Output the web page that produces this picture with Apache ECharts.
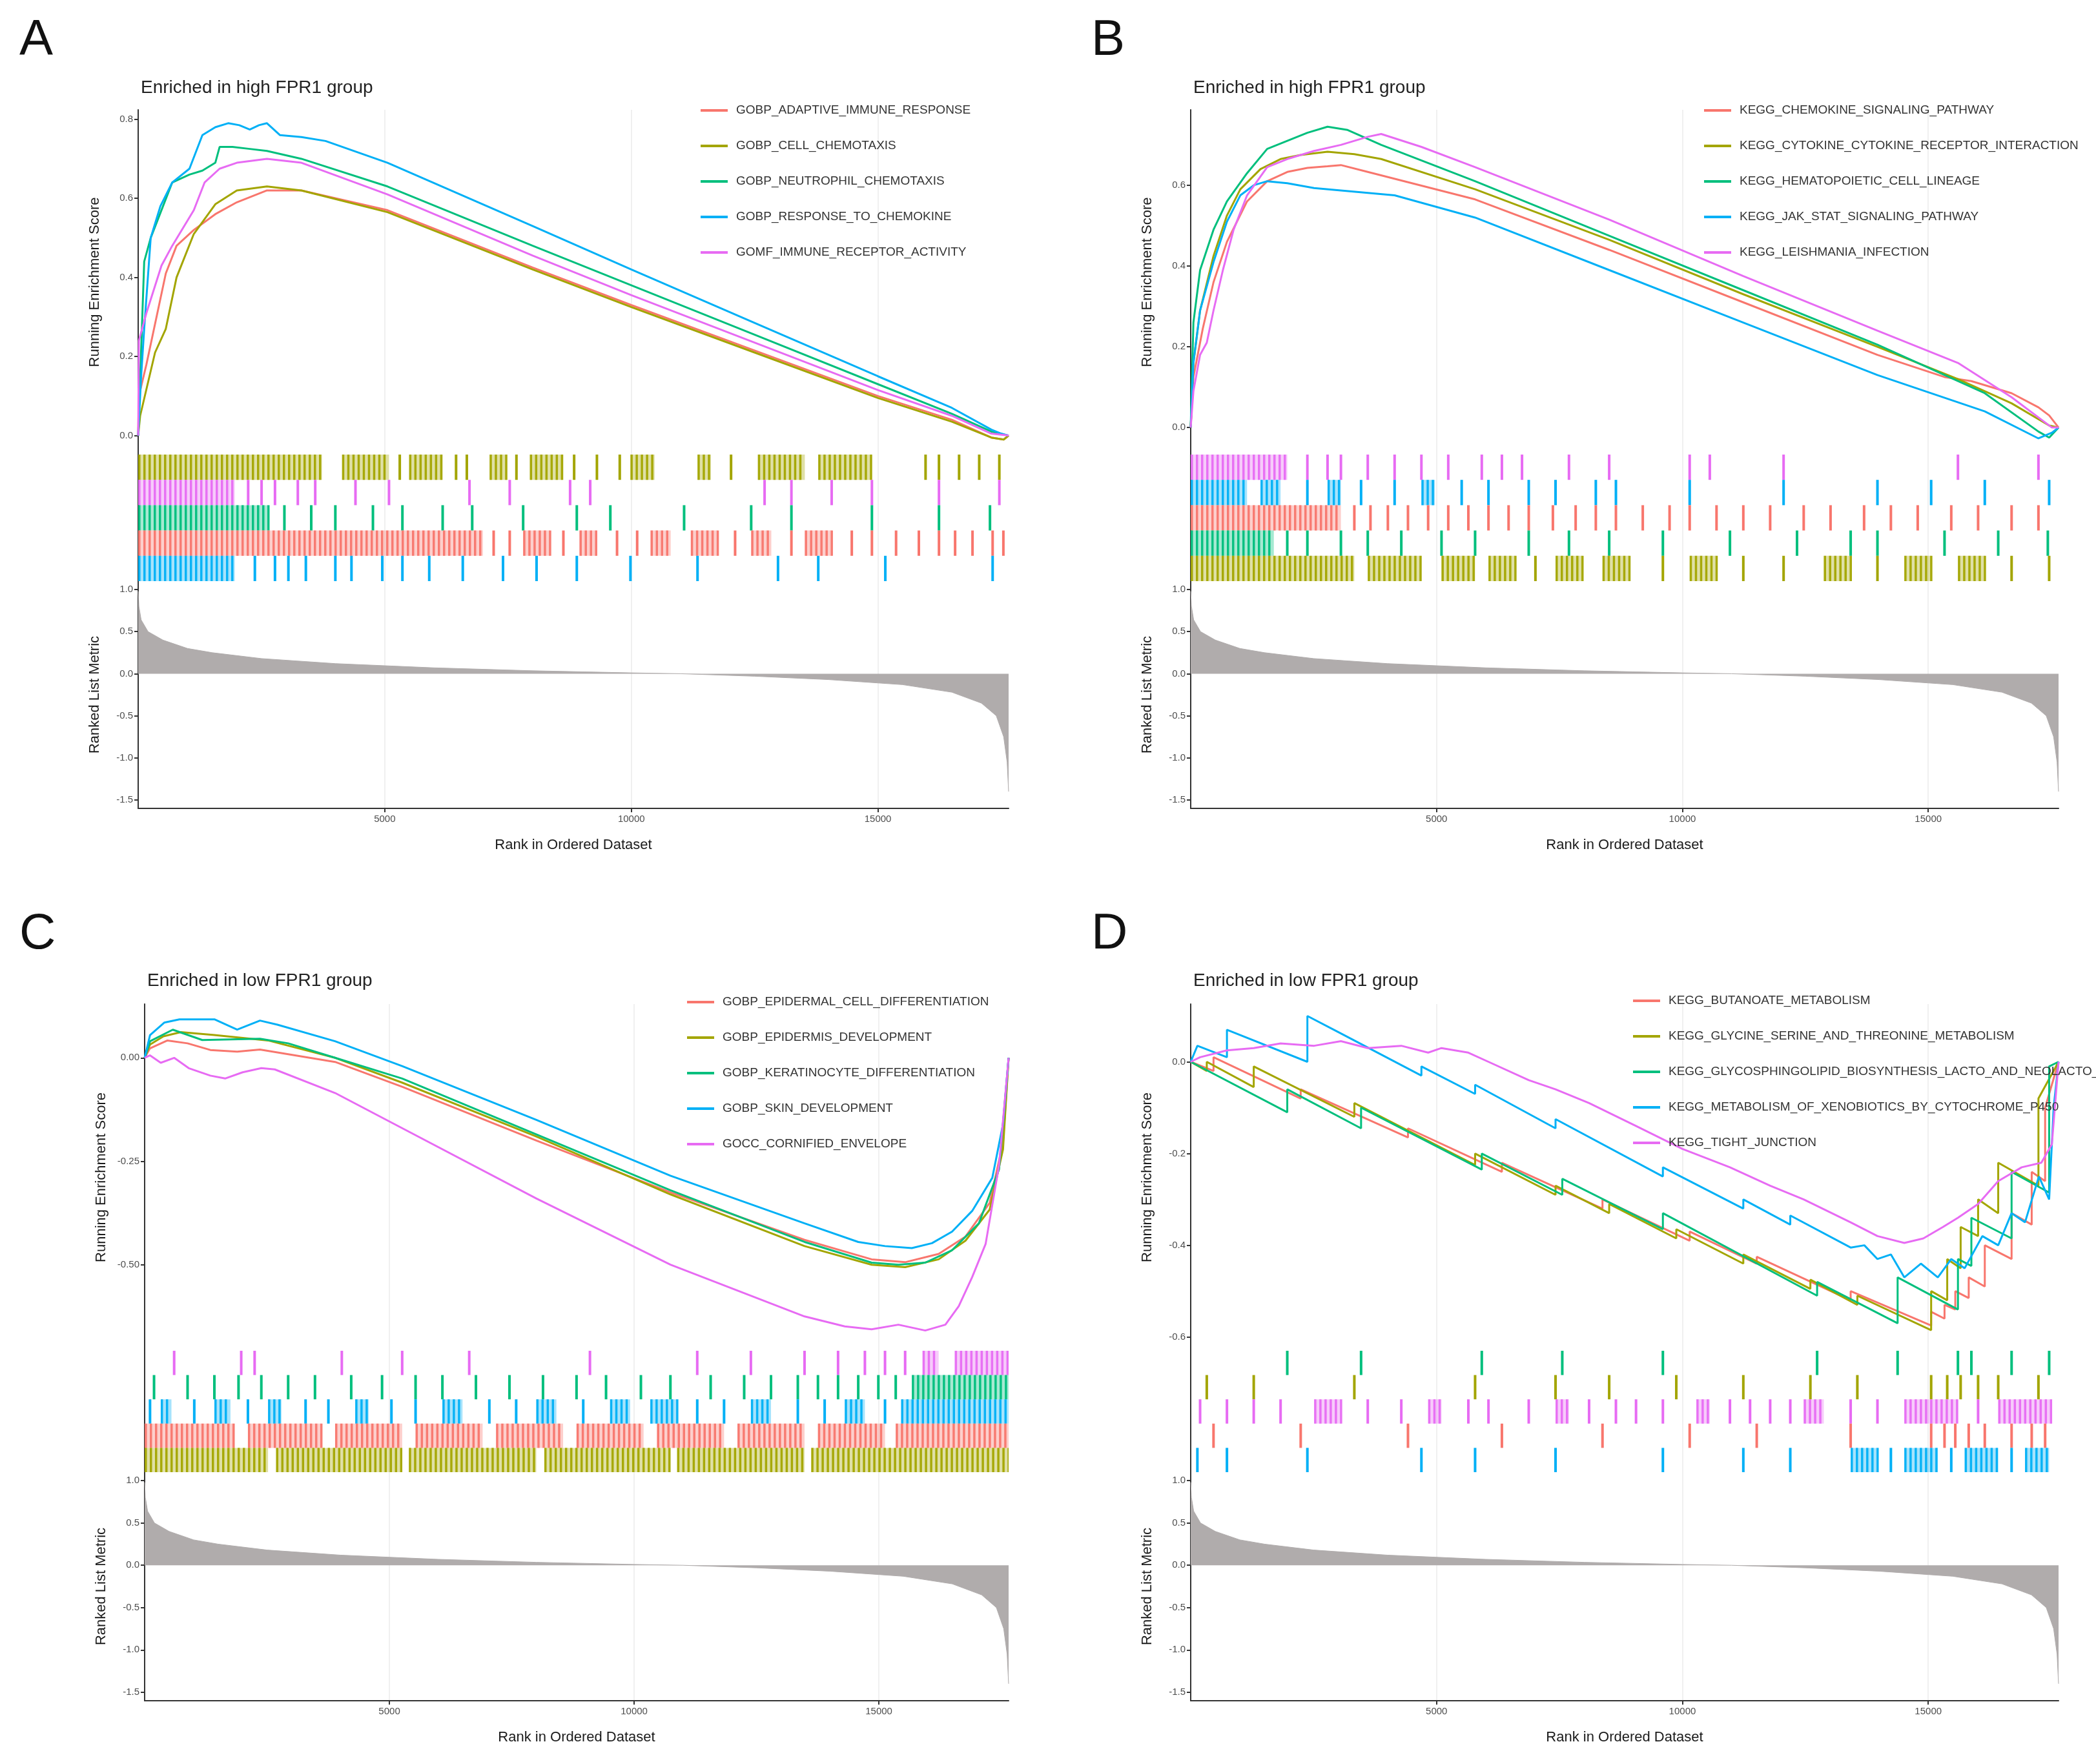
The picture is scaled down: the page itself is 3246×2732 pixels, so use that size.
<!DOCTYPE html>
<html><head><meta charset="utf-8">
<script src="https://cdn.jsdelivr.net/npm/echarts@6/dist/echarts.min.js"></script>
<style>html,body{margin:0;padding:0;background:#fff}#c{width:3246px;height:2732px}</style>
</head><body><div id="c"></div>
<script>
// ---------------- DATA ----------------
const N_GENES = 17650;
const xTickLabels = [5000, 10000, 15000];
const metricTicks = [-1.5, -1.0, -0.5, 0, 0.5, 1.0];

// ranked list metric (shared gene list)
const metricRank  = [0, 15, 60, 200, 500, 1000, 1500, 2500, 4000, 6000, 8000, 10000, 11000, 12500, 14000, 15500, 16500, 17100, 17400, 17550, 17620, 17650];
const metricValue = [0.98, 0.8, 0.64, 0.5, 0.4, 0.3, 0.25, 0.18, 0.12, 0.07, 0.035, 0.01, 0, -0.03, -0.07, -0.13, -0.22, -0.35, -0.5, -0.75, -1.05, -1.4];

// legend names (order: red, olive, green, blue, purple)
const namesA = ['GOBP_ADAPTIVE_IMMUNE_RESPONSE','GOBP_CELL_CHEMOTAXIS','GOBP_NEUTROPHIL_CHEMOTAXIS','GOBP_RESPONSE_TO_CHEMOKINE','GOMF_IMMUNE_RECEPTOR_ACTIVITY'];
const namesB = ['KEGG_CHEMOKINE_SIGNALING_PATHWAY','KEGG_CYTOKINE_CYTOKINE_RECEPTOR_INTERACTION','KEGG_HEMATOPOIETIC_CELL_LINEAGE','KEGG_JAK_STAT_SIGNALING_PATHWAY','KEGG_LEISHMANIA_INFECTION'];
const namesC = ['GOBP_EPIDERMAL_CELL_DIFFERENTIATION','GOBP_EPIDERMIS_DEVELOPMENT','GOBP_KERATINOCYTE_DIFFERENTIATION','GOBP_SKIN_DEVELOPMENT','GOCC_CORNIFIED_ENVELOPE'];
const namesD = ['KEGG_BUTANOATE_METABOLISM','KEGG_GLYCINE_SERINE_AND_THREONINE_METABOLISM','KEGG_GLYCOSPHINGOLIPID_BIOSYNTHESIS_LACTO_AND_NEOLACTO_SERIES','KEGG_METABOLISM_OF_XENOBIOTICS_BY_CYTOCHROME_P450','KEGG_TIGHT_JUNCTION'];

// y tick labels of the running-score panels
const esTicksA = [0, 0.2, 0.4, 0.6, 0.8];
const esTicksB = [0, 0.2, 0.4, 0.6];
const esTicksC = [-0.5, -0.25, 0];
const esTicksD = [-0.6, -0.4, -0.2, 0];

// running enrichment score curves [rank, ES]
const esA_red    = [[0,0],[14,0.10],[167,0.18],[560,0.41],[778,0.48],[1128,0.52],[1564,0.56],[2000,0.59],[2611,0.62],[3310,0.62],[5056,0.57],[8000,0.425],[10000,0.33],[12500,0.215],[15000,0.10],[16500,0.04],[17300,-0.005],[17550,-0.01],[17650,0]];
const esA_olive  = [[0,0],[40,0.05],[342,0.21],[560,0.27],[778,0.40],[1128,0.51],[1564,0.585],[2000,0.62],[2611,0.63],[3310,0.62],[5056,0.565],[8000,0.42],[10000,0.325],[12500,0.21],[15000,0.095],[16500,0.035],[17300,-0.005],[17550,-0.01],[17650,0]];
const esA_green  = [[0,0],[122,0.44],[254,0.50],[690,0.64],[1040,0.66],[1302,0.67],[1564,0.69],[1651,0.73],[1912,0.73],[2263,0.725],[2611,0.72],[3310,0.70],[5056,0.63],[8000,0.48],[10000,0.38],[12500,0.255],[15000,0.13],[16500,0.055],[17300,0.01],[17650,0]];
const esA_blue   = [[0,0],[60,0.15],[122,0.27],[254,0.50],[450,0.58],[690,0.64],[1040,0.675],[1302,0.76],[1564,0.78],[1825,0.79],[2050,0.785],[2263,0.774],[2450,0.785],[2611,0.79],[2873,0.76],[3310,0.755],[3800,0.745],[5056,0.69],[8000,0.53],[10000,0.42],[12500,0.285],[15000,0.15],[16500,0.07],[17300,0.015],[17500,0.005],[17650,0]];
const esA_purple = [[0,0],[14,0.24],[167,0.31],[473,0.43],[690,0.48],[1128,0.57],[1346,0.64],[1651,0.675],[2000,0.69],[2611,0.70],[3310,0.69],[5056,0.61],[8000,0.455],[10000,0.355],[12500,0.235],[15000,0.115],[16500,0.05],[17300,0.005],[17650,0]];

const esB_red    = [[0,0],[55,0.125],[246,0.245],[464,0.36],[737,0.46],[1146,0.56],[1555,0.61],[1964,0.633],[2373,0.643],[2783,0.647],[3055,0.65],[3601,0.633],[5784,0.565],[8511,0.44],[11239,0.31],[13967,0.18],[15331,0.125],[15877,0.115],[16695,0.085],[17241,0.05],[17459,0.03],[17650,0]];
const esB_olive  = [[0,0],[55,0.16],[191,0.29],[464,0.425],[737,0.525],[1009,0.59],[1419,0.64],[1828,0.665],[2237,0.675],[2783,0.683],[3328,0.677],[3874,0.665],[5784,0.59],[8511,0.465],[11239,0.33],[13967,0.20],[15604,0.12],[16695,0.06],[17459,0.005],[17650,0]];
const esB_green  = [[0,0],[55,0.26],[191,0.39],[464,0.49],[737,0.56],[1146,0.63],[1555,0.69],[1964,0.71],[2373,0.73],[2783,0.745],[3192,0.737],[3874,0.70],[5784,0.61],[8511,0.475],[11239,0.34],[13967,0.205],[16150,0.085],[17241,-0.01],[17459,-0.025],[17650,0]];
const esB_blue   = [[0,0],[55,0.16],[191,0.29],[464,0.41],[737,0.51],[1009,0.575],[1282,0.60],[1555,0.61],[1964,0.605],[2510,0.593],[3055,0.587],[4147,0.575],[5784,0.52],[8511,0.39],[11239,0.26],[13967,0.13],[16150,0.04],[17241,-0.027],[17514,-0.013],[17650,0]];
const esB_purple = [[0,0],[55,0.09],[191,0.18],[327,0.21],[464,0.29],[655,0.39],[873,0.49],[1146,0.575],[1555,0.645],[1964,0.665],[2510,0.685],[3055,0.70],[3601,0.72],[3874,0.727],[4692,0.695],[5784,0.645],[8511,0.515],[11239,0.375],[13967,0.24],[15604,0.16],[16695,0.075],[17514,0.0],[17650,0]];

const esC_red    = [[0,0],[110,0.023],[466,0.042],[877,0.035],[1342,0.019],[1890,0.015],[2356,0.02],[3891,-0.01],[5261,-0.07],[8001,-0.20],[10741,-0.325],[13481,-0.44],[14852,-0.487],[15536,-0.494],[16221,-0.474],[16769,-0.432],[17262,-0.351],[17536,-0.205],[17650,0]];
const esC_olive  = [[0,0],[110,0.032],[384,0.052],[740,0.062],[1425,0.055],[2521,0.042],[3891,0.0],[5261,-0.06],[8001,-0.19],[10741,-0.33],[13481,-0.455],[14852,-0.50],[15536,-0.506],[16221,-0.487],[16769,-0.442],[17262,-0.367],[17536,-0.221],[17650,0]];
const esC_green  = [[0,0],[110,0.04],[575,0.068],[1178,0.043],[2356,0.046],[2932,0.035],[3891,0.0],[5261,-0.05],[8001,-0.185],[10741,-0.32],[13481,-0.445],[14852,-0.495],[15399,-0.50],[15947,-0.495],[16495,-0.465],[17043,-0.40],[17454,-0.27],[17650,0]];
const esC_blue   = [[0,0],[110,0.055],[400,0.085],[711,0.093],[1425,0.093],[1890,0.068],[2356,0.09],[2713,0.08],[3891,0.04],[5261,-0.02],[8001,-0.15],[10741,-0.285],[13481,-0.40],[14578,-0.445],[15125,-0.455],[15673,-0.46],[16084,-0.448],[16495,-0.42],[16906,-0.37],[17317,-0.29],[17536,-0.16],[17650,0]];
const esC_purple = [[0,0],[110,0.006],[329,-0.012],[603,0.0],[900,-0.025],[1342,-0.043],[1644,-0.05],[2000,-0.035],[2384,-0.025],[2658,-0.028],[3891,-0.085],[5261,-0.17],[8001,-0.34],[10741,-0.50],[13481,-0.625],[14303,-0.649],[14852,-0.656],[15399,-0.645],[15947,-0.659],[16358,-0.645],[16632,-0.60],[16906,-0.53],[17180,-0.45],[17454,-0.26],[17650,0]];

const esD_red    = [[0,0],[464,-0.02],[464,0.01],[2237,-0.08],[2237,-0.06],[4419,-0.165],[4419,-0.145],[6329,-0.24],[6329,-0.22],[8375,-0.32],[8375,-0.30],[10148,-0.39],[10148,-0.37],[11512,-0.44],[11512,-0.425],[13422,-0.52],[13422,-0.50],[15059,-0.575],[15059,-0.545],[15331,-0.56],[15331,-0.53],[15550,-0.54],[15550,-0.50],[15823,-0.515],[15823,-0.47],[16150,-0.49],[16150,-0.40],[16695,-0.43],[16695,-0.33],[17104,-0.355],[17104,-0.24],[17377,-0.26],[17377,-0.10],[17650,0]];
const esD_olive  = [[0,0],[327,-0.02],[327,0.0],[1282,-0.055],[1282,-0.01],[3328,-0.12],[3328,-0.09],[5784,-0.225],[5784,-0.2],[7420,-0.29],[7420,-0.27],[8511,-0.33],[8511,-0.31],[9876,-0.385],[9876,-0.365],[11239,-0.44],[11239,-0.42],[12603,-0.495],[12603,-0.475],[13558,-0.53],[13558,-0.51],[15059,-0.585],[15059,-0.50],[15386,-0.52],[15386,-0.43],[15659,-0.45],[15659,-0.36],[16014,-0.38],[16014,-0.30],[16423,-0.33],[16423,-0.22],[17241,-0.27],[17241,-0.08],[17650,0]];
const esD_green  = [[0,0],[1964,-0.11],[1964,-0.06],[3465,-0.145],[3465,-0.10],[5920,-0.235],[5920,-0.20],[7557,-0.29],[7557,-0.255],[9603,-0.365],[9603,-0.33],[12740,-0.51],[12740,-0.48],[14377,-0.57],[14377,-0.47],[15604,-0.54],[15604,-0.43],[15877,-0.445],[15877,-0.34],[16695,-0.385],[16695,-0.24],[17459,-0.285],[17459,-0.01],[17650,0]];
const esD_blue   = [[0,0],[136,0.035],[737,0.01],[737,0.07],[2373,0.0],[2373,0.10],[3000,0.065],[4692,-0.03],[4692,-0.01],[5784,-0.07],[5784,-0.05],[7420,-0.145],[7420,-0.125],[9603,-0.25],[9603,-0.23],[11239,-0.32],[11239,-0.30],[12194,-0.355],[12194,-0.335],[13422,-0.405],[13700,-0.40],[13967,-0.43],[14240,-0.42],[14513,-0.47],[14850,-0.44],[15195,-0.47],[15468,-0.43],[15741,-0.45],[16100,-0.38],[16423,-0.40],[16695,-0.33],[16968,-0.35],[17250,-0.25],[17459,-0.30],[17550,-0.10],[17650,0]];
const esD_purple = [[0,0],[191,0.01],[737,0.025],[1282,0.03],[1828,0.04],[2510,0.035],[3055,0.045],[3601,0.03],[4283,0.035],[4829,0.02],[5101,0.03],[5647,0.02],[6056,0.0],[6875,-0.04],[7420,-0.06],[8102,-0.09],[9057,-0.14],[10000,-0.19],[10967,-0.23],[11785,-0.27],[12467,-0.30],[13422,-0.35],[13967,-0.38],[14513,-0.395],[14900,-0.385],[15300,-0.36],[15604,-0.34],[16014,-0.31],[16423,-0.26],[16900,-0.23],[17300,-0.22],[17514,-0.18],[17650,0]];

// gene-set hit positions (rank or [from,to] for dense runs of hits)
const rugA_olive  = [[0,3726],[4134,5086],5304,[5494,6174],6446,6664,[7126,7480],7670,[7942,8622],8840,9302,9765,[9982,10472],[11342,11614],12022,[12566,13518],[13790,14878],15966,16238,16646,17054,17462];
const rugA_purple = [[0,1958],2230,2502,2774,3237,3590,4406,5086,6718,7534,8758,9166,12702,13246,14062,14878,16238,17462];
const rugA_green  = [[0,2638],2965,3509,3998,4760,5358,6174,6773,7806,8894,9574,11070,12430,13246,14878,16238,17272];
const rugA_red    = [[0,6990],7208,7534,[7806,8350],8622,[8949,9302],9710,10118,[10390,10798],[11206,11750],12104,[12430,12838],13246,[13518,14062],14470,14878,15368,15830,16238,16565,16918,17326,17544];
const rugA_blue   = [[0,1958],2366,2774,3046,3400,3998,4325,4950,5358,5902,6582,7398,8078,8894,9982,11342,12974,13790,15150,17326];

const rugB_purple = [[0,1964],2373,2783,3055,3601,4147,4692,5238,5920,6329,6738,7693,8511,10148,10557,12058,15604,17241];
const rugB_blue   = [[0,1146],[1419,1828],2373,[2783,3055],3465,4147,[4692,4965],5511,6056,6875,7420,8239,8648,10148,12058,13967,15059,16150,17459];
const rugB_red    = [[0,3055],3328,3656,4010,4419,4829,5238,5647,6056,6465,6875,7366,7829,8239,8648,9194,9739,10148,10694,11239,11785,12467,13013,13695,14240,14786,15468,16014,16695,17241];
const rugB_green  = [[0,1691],1964,2373,3055,3601,4283,5101,5784,6875,7693,8511,9603,10967,12331,13422,13967,15331,16423,17432];
const rugB_olive  = [[0,3328],[3601,4692],[5101,5784],[6056,6602],7011,[7420,7966],[8375,8921],9603,[10148,10694],11239,12058,[12876,13422],13967,[14513,15059],[15604,16150],16695,17459];

const rugC_purple = [603,1973,2247,4028,5261,6631,9097,11289,12385,13481,14166,14714,15125,15536,[15892,16221],[16550,17650]];
const rugC_green  = [192,877,1425,1918,2384,2932,3480,4220,4850,5535,6083,6768,7453,8138,8823,9426,10138,10741,11563,12248,12796,13344,13755,14166,14578,14989,15344,[15673,17650]];
const rugC_blue   = [110,[329,548],1014,[1425,1754],2110,[2521,2795],3288,3754,[4302,4576],5042,5535,[6083,6494],7042,7590,[8001,8412],8960,[9508,9919],[10330,10878],11289,11837,[12385,12796],13344,13892,[14303,14714],15125,[15454,17650]];
const rugC_red    = [[0,1836],[2110,3617],[3891,5261],[5535,6905],[7179,8549],[8823,10193],[10467,11837],[12111,13481],[13755,15125],[15344,17650]];
const rugC_olive  = [[0,2521],[2685,5261],[5398,8001],[8165,10741],[10878,13481],[13618,17650]];

const rugD_green  = [1964,3465,5920,7557,9603,12740,14377,15604,15877,16695,17459];
const rugD_olive  = [327,1282,3328,5784,7420,8511,9876,11239,12603,13558,15059,15386,15659,16014,16423,17241];
const rugD_purple = [191,737,1282,1828,[2510,3055],3601,4283,[4829,5101],5647,6056,6875,[7420,7693],8102,8648,9057,9603,[10284,10557],10967,11376,11785,12194,[12467,12876],13422,13967,[14513,15604],16014,[16423,17514]];
const rugD_red    = [464,2237,4419,6329,8375,10148,11512,13422,15059,15331,15550,15823,16150,16695,17104,17377];
const rugD_blue   = [136,737,2373,4692,5784,7420,9603,11239,12194,[13422,13967],14240,[14513,15195],15468,[15741,16423],16695,[16968,17459]];

// ---------------- STYLE / LAYOUT ----------------
const FONT = '"Liberation Sans", Arial, Helvetica, sans-serif';
const COLORS = ['#F8766D', '#A3A500', '#00BF7D', '#00B0F6', '#E76BF3'];
const AXIS_COLOR = '#333333';
const TICK_TEXT = '#4D4D4D';
const GRID_LINE = '#EBEBEB';

const grids = [], xAxes = [], yAxes = [], series = [], legends = [], titles = [];

function xAxisCfg(gi, bottom) {
  return {
    type: 'value', gridIndex: gi, min: 0, max: N_GENES, interval: 2500,
    axisLine: { show: bottom, onZero: false, lineStyle: { color: AXIS_COLOR, width: 2 } },
    axisTick: { show: bottom, length: 6, customValues: xTickLabels, lineStyle: { color: AXIS_COLOR, width: 2 } },
    axisLabel: { show: bottom, customValues: xTickLabels, fontSize: 15, color: TICK_TEXT, margin: 9, fontFamily: FONT,
      formatter: v => String(v) },
    splitLine: { show: true, lineStyle: { color: GRID_LINE, width: 1.5 } },
    name: bottom ? 'Rank in Ordered Dataset' : '', nameLocation: 'middle', nameGap: 46,
    nameTextStyle: { fontSize: 22, color: '#1a1a1a', fontFamily: FONT }
  };
}
function yAxisCfg(gi, min, max, ticks, digits, name) {
  return {
    type: 'value', gridIndex: gi, min: min, max: max,
    axisLine: { show: true, onZero: false, lineStyle: { color: AXIS_COLOR, width: 2 } },
    axisTick: { show: !!ticks, length: 6, customValues: ticks || [], lineStyle: { color: AXIS_COLOR, width: 2 } },
    axisLabel: { show: !!ticks, customValues: ticks || [], fontSize: 15, color: TICK_TEXT, margin: 8, fontFamily: FONT,
      formatter: v => Number(v).toFixed(digits) },
    splitLine: { show: false },
    name: name || '', nameLocation: 'middle', nameRotate: 90, nameGap: 56,
    nameTextStyle: { fontSize: 22, color: '#1a1a1a', fontFamily: FONT }
  };
}
function rugRender(params, api) {
  const s = api.value(0), e = api.value(1), row = api.value(2);
  const p1 = api.coord([s, 5 - row]);
  const p2 = api.coord([e, 4 - row]);
  const color = api.visual('color');
  const y = p1[1], h = p2[1] - p1[1];
  const x = p1[0], w = p2[0] - p1[0];
  if (w < 4) {
    return { type: 'rect', shape: { x: x - 2, y: y, width: 4, height: h }, style: { fill: color } };
  }
  // dense run of hits: pale tint with hit lines drawn across it
  const children = [{ type: 'rect', shape: { x: x, y: y, width: w, height: h }, style: { fill: color, opacity: 0.35 } }];
  for (let xx = x; xx < x + w - 1; xx += 8) {
    children.push({ type: 'rect', shape: { x: xx, y: y, width: 3.5, height: h }, style: { fill: color, opacity: 0.95 } });
  }
  return { type: 'group', children: children };
}

function panel(p) {
  const g0 = grids.length;
  grids.push({ left: p.left, top: p.esTop, width: p.width, height: p.esH });
  grids.push({ left: p.left, top: p.esTop + p.esH, width: p.width, height: p.rugH });
  grids.push({ left: p.left, top: p.esTop + p.esH + p.rugH, width: p.width, height: p.metH });
  xAxes.push(xAxisCfg(g0, false), xAxisCfg(g0 + 1, false), xAxisCfg(g0 + 2, true));
  yAxes.push(yAxisCfg(g0, p.esMin, p.esMax, p.esTicks, p.esDigits, 'Running Enrichment Score'));
  yAxes.push(yAxisCfg(g0 + 1, 0, 5, null, 0, ''));
  yAxes.push(yAxisCfg(g0 + 2, -1.6, 1.1, metricTicks, 1, 'Ranked List Metric'));
  p.curves.forEach((c, i) => {
    series.push({ type: 'line', name: p.names[i], xAxisIndex: g0, yAxisIndex: g0, data: c,
      symbol: 'none', showSymbol: false, color: COLORS[i], lineStyle: { width: 3, color: COLORS[i] },
      clip: true, z: 3 });
  });
  p.rugs.forEach((r, row) => {
    const items = r.hits.map(h => Array.isArray(h) ? [h[0], h[1], row] : [h, h, row]);
    series.push({ type: 'custom', xAxisIndex: g0 + 1, yAxisIndex: g0 + 1, renderItem: rugRender,
      encode: { x: [0, 1], y: 2 }, data: items, itemStyle: { color: COLORS[r.color] }, clip: true, silent: true });
  });
  series.push({ type: 'line', xAxisIndex: g0 + 2, yAxisIndex: g0 + 2,
    data: metricRank.map((r, i) => [r, metricValue[i]]), symbol: 'none', showSymbol: false,
    lineStyle: { width: 1, color: '#B0ACAC' }, areaStyle: { color: '#B0ACAC', opacity: 1, origin: 0 }, z: 2, silent: true });
  legends.push({ data: p.names, orient: 'vertical', left: p.legLeft, top: p.legTop, itemWidth: 42, itemHeight: 4,
    itemGap: 35, icon: 'rect', selectedMode: false,
    textStyle: { fontSize: 19, color: '#333', lineHeight: 20, fontFamily: FONT, padding: [0, 0, 0, 8] } });
  titles.push({ text: p.letter, left: p.letterLeft, top: p.letterTop, padding: 0,
    textStyle: { fontSize: 78, fontWeight: 'normal', color: '#111', fontFamily: FONT } });
  titles.push({ text: p.title, left: p.left + 4, top: p.titleTop, padding: 0,
    textStyle: { fontSize: 28, fontWeight: 'normal', color: '#222', fontFamily: FONT } });
}

panel({ letter: 'A', letterLeft: 30, letterTop: 24, title: 'Enriched in high FPR1 group', titleTop: 122,
  left: 214, width: 1348, esTop: 170, esH: 534, rugH: 196, metH: 352,
  esMin: -0.048, esMax: 0.824, esTicks: esTicksA, esDigits: 1,
  names: namesA, curves: [esA_red, esA_olive, esA_green, esA_blue, esA_purple],
  rugs: [{ hits: rugA_olive, color: 1 }, { hits: rugA_purple, color: 4 }, { hits: rugA_green, color: 2 }, { hits: rugA_red, color: 0 }, { hits: rugA_blue, color: 3 }],
  legLeft: 1080, legTop: 156 });
panel({ letter: 'B', letterLeft: 1690, letterTop: 24, title: 'Enriched in high FPR1 group', titleTop: 122,
  left: 1844, width: 1344, esTop: 170, esH: 534, rugH: 196, metH: 352,
  esMin: -0.067, esMax: 0.787, esTicks: esTicksB, esDigits: 1,
  names: namesB, curves: [esB_red, esB_olive, esB_green, esB_blue, esB_purple],
  rugs: [{ hits: rugB_purple, color: 4 }, { hits: rugB_blue, color: 3 }, { hits: rugB_red, color: 0 }, { hits: rugB_green, color: 2 }, { hits: rugB_olive, color: 1 }],
  legLeft: 2634, legTop: 156 });
panel({ letter: 'C', letterLeft: 30, letterTop: 1408, title: 'Enriched in low FPR1 group', titleTop: 1505,
  left: 224, width: 1338, esTop: 1555, esH: 537, rugH: 188, metH: 354,
  esMin: -0.708, esMax: 0.13, esTicks: esTicksC, esDigits: 2,
  names: namesC, curves: [esC_red, esC_olive, esC_green, esC_blue, esC_purple],
  rugs: [{ hits: rugC_purple, color: 4 }, { hits: rugC_green, color: 2 }, { hits: rugC_blue, color: 3 }, { hits: rugC_red, color: 0 }, { hits: rugC_olive, color: 1 }],
  legLeft: 1059, legTop: 1537 });
panel({ letter: 'D', letterLeft: 1690, letterTop: 1408, title: 'Enriched in low FPR1 group', titleTop: 1505,
  left: 1844, width: 1344, esTop: 1555, esH: 537, rugH: 188, metH: 354,
  esMin: -0.63, esMax: 0.126, esTicks: esTicksD, esDigits: 1,
  names: namesD, curves: [esD_red, esD_olive, esD_green, esD_blue, esD_purple],
  rugs: [{ hits: rugD_green, color: 2 }, { hits: rugD_olive, color: 1 }, { hits: rugD_purple, color: 4 }, { hits: rugD_red, color: 0 }, { hits: rugD_blue, color: 3 }],
  legLeft: 2524, legTop: 1535 });

const chart = echarts.init(document.getElementById('c'), null, { renderer: 'canvas' });
chart.setOption({
  backgroundColor: '#ffffff', animation: false,
  title: titles, legend: legends, grid: grids, xAxis: xAxes, yAxis: yAxes, series: series
});
</script></body></html>
